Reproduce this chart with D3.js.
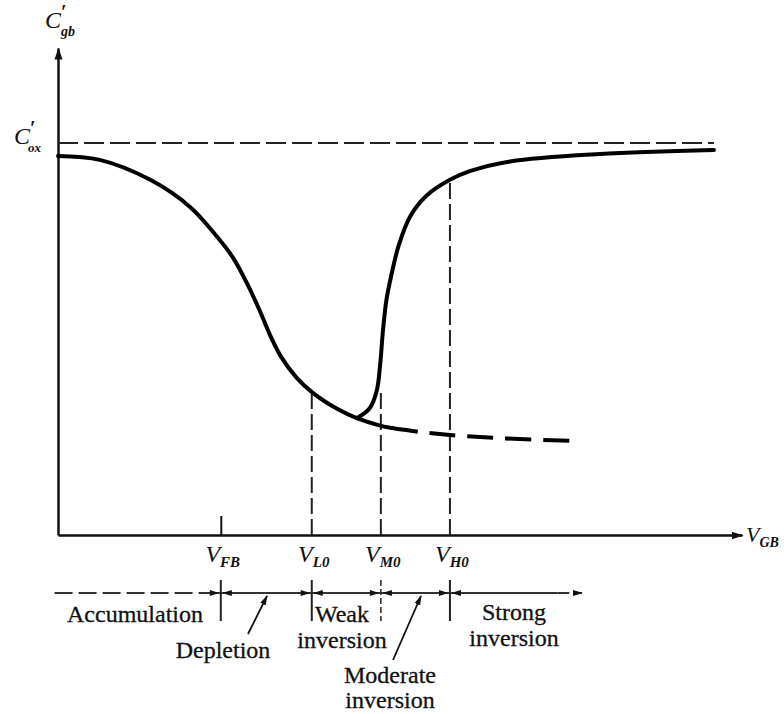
<!DOCTYPE html>
<html>
<head>
<meta charset="utf-8">
<script src="https://cdn.jsdelivr.net/npm/d3@7"></script>
<style>
body{margin:0;background:#fff;}
text{font-family:"Liberation Serif","Times New Roman",serif;fill:#111;}
</style>
</head>
<body>
<div id="chart"></div>
<script>
// C'gb versus VGB, normalised: C'ox = 1, VGB on a 0..100 scale
var descending = [[0,0.967],[6.1,0.957],[13.5,0.906],[19.3,0.837],[23.2,0.762],[25.6,0.707],
	[27.6,0.643],[29.5,0.572],[31.0,0.510],[32.6,0.455],[34.9,0.401],[37.3,0.362],
	[40.8,0.322],[43.7,0.298],[47.1,0.279],[48.8,0.273]];
var rising = [[43.7,0.298],[45.6,0.324],[46.6,0.368],[47.1,0.435],[47.5,0.520],[48.0,0.598],
	[48.7,0.660],[49.8,0.738],[51.5,0.813],[53.9,0.866],[57.3,0.906],[60.2,0.928],
	[66.1,0.953],[79.2,0.972],[95.9,0.982]];
var depletionTail = [[48.8,0.273],[52.9,0.263],[57.3,0.255],[64.6,0.247],[75.1,0.240]];
var coxLine = [[0,1],[95.9,1]];

var markerNames = ["FB","L0","M0","H0"];
var markerValues = [23.8, 37.1, 47.2, 57.3];
var markerTops = [null, 0.360, 0.370, 0.906];

var regionNames = [["Accumulation"],["Depletion"],["Weak","inversion"],["Moderate","inversion"],["Strong","inversion"]];

var width = 784, height = 714;
var svg = d3.select("#chart").append("svg").attr("width", width).attr("height", height);

var x = d3.scaleLinear().domain([0,100]).range([58,742]);
var y = d3.scaleLinear().domain([0,1]).range([535,143]);

var defs = svg.append("defs");
defs.append("marker").attr("id","arrow").attr("viewBox","0 -5 12 10")
	.attr("refX",11).attr("refY",0).attr("markerWidth",12).attr("markerHeight",10)
	.attr("markerUnits","userSpaceOnUse").attr("orient","auto")
	.append("path").attr("d","M0,-4L12,0L0,4Z").attr("fill","#111");
defs.append("marker").attr("id","smallarrow").attr("viewBox","0 -4 10 8")
	.attr("refX",9).attr("refY",0).attr("markerWidth",10).attr("markerHeight",8)
	.attr("markerUnits","userSpaceOnUse").attr("orient","auto")
	.append("path").attr("d","M0,-3L10,0L0,3Z").attr("fill","#111");

// axes
var xAxis = svg.append("g").attr("transform","translate(0,"+y(0)+")")
	.call(d3.axisBottom(x).tickValues([markerValues[0]]).tickSizeInner(-19).tickSizeOuter(0).tickFormat(""));
var yAxis = svg.append("g").attr("transform","translate("+x(0)+",0)")
	.call(d3.axisLeft(d3.scaleLinear().domain([0,1.242]).range([535,48])).tickValues([]).tickSizeOuter(0));
[xAxis,yAxis].forEach(function(a){
	a.select(".domain").attr("stroke","#111").attr("stroke-width",2.5).attr("marker-end","url(#arrow)");
	a.selectAll(".tick line").attr("stroke","#111").attr("stroke-width",2);
});

var line = d3.line().x(function(d){return x(d[0]);}).y(function(d){return y(d[1]);});
var smooth = d3.line().x(function(d){return x(d[0]);}).y(function(d){return y(d[1]);}).curve(d3.curveCatmullRom.alpha(0.5));

// C'ox asymptote
svg.append("path").attr("d", line(coxLine)).attr("fill","none")
	.attr("stroke","#222").attr("stroke-width",2.2).attr("stroke-dasharray","20,6");

// vertical dashed guides
svg.selectAll(".guide").data(markerValues.slice(1)).enter().append("line")
	.attr("class","guide")
	.attr("x1",function(d){return x(d);}).attr("x2",function(d){return x(d);})
	.attr("y1",y(0)).attr("y2",function(d,i){return y(markerTops[i+1]);})
	.attr("stroke","#222").attr("stroke-width",2).attr("stroke-dasharray","16,5");

// curves
svg.append("path").attr("d", smooth(descending)).attr("fill","none")
	.attr("stroke","#000").attr("stroke-width",4).attr("stroke-linecap","round");
svg.append("path").attr("d", smooth(rising)).attr("fill","none")
	.attr("stroke","#000").attr("stroke-width",4).attr("stroke-linecap","round");
svg.append("path").attr("d", smooth(depletionTail)).attr("fill","none")
	.attr("stroke","#000").attr("stroke-width",4).attr("stroke-dasharray","26,12");

// tick labels  V_sub
function vLabel(g, px, py, main, sub, size, subSize){
	var t = g.append("text").attr("x",px).attr("y",py).attr("font-style","italic")
		.attr("font-size",size).attr("text-anchor","middle");
	t.append("tspan").text(main);
	t.append("tspan").attr("dy",5).attr("font-size",subSize).attr("font-weight","bold").text(sub);
	return t;
}
markerNames.forEach(function(n,i){
	vLabel(svg, x(markerValues[i])+2, 562, "V", n, 24, 15);
});
vLabel(svg, 746, 542, "V", "GB", 22, 14).attr("text-anchor","start");

// y axis labels: C, prime and subscript as separate pieces
function cLabel(px, py, sub, subSize, subDx){
	svg.append("text").attr("x",px).attr("y",py).attr("font-style","italic").attr("font-size",24).text("C");
	svg.append("text").attr("x",px+16).attr("y",py-9).attr("font-size",20).attr("font-weight","bold").text("′");
	svg.append("text").attr("x",px+subDx).attr("y",py+8).attr("font-style","italic")
		.attr("font-size",subSize).attr("font-weight","bold").text(sub);
}
cLabel(45, 28, "gb", 14, 16);
cLabel(14, 144, "ox", 13, 14);

// operating regions band
var bandY = 593;
var band = svg.append("g");
band.append("line").attr("x1",x(-0.5)).attr("x2",x(22.5)).attr("y1",bandY).attr("y2",bandY)
	.attr("stroke","#333").attr("stroke-width",2).attr("stroke-dasharray","18,6");
band.append("line").attr("x1",x(22.5)).attr("x2",x(73)).attr("y1",bandY).attr("y2",bandY)
	.attr("stroke","#333").attr("stroke-width",2);
band.append("line").attr("x1",x(73)).attr("x2",x(76.6)).attr("y1",bandY).attr("y2",bandY)
	.attr("stroke","#333").attr("stroke-width",2).attr("stroke-dasharray","12,5")
	.attr("marker-end","url(#smallarrow)");
markerValues.forEach(function(v,i){
	var bx = x(v);
	band.append("line").attr("x1",bx).attr("x2",bx).attr("y1",bandY-13).attr("y2",bandY+28)
		.attr("stroke","#222").attr("stroke-width",i==2?1.5:2).attr("stroke-dasharray",i==2?"6,3":null);
	[-1,1].forEach(function(s){
		band.append("path").attr("d","M"+(bx+s*11)+","+(bandY-3)+"L"+(bx+s*1.5)+","+bandY+"L"+(bx+s*11)+","+(bandY+3)+"Z")
			.attr("fill","#111");
	});
});

var labelPos = [[135,622],[223,658],[342,622],[390,683],[514,620]];
regionNames.forEach(function(lines,i){
	var t = svg.append("text").attr("text-anchor","middle").attr("font-size",24)
		.attr("x",labelPos[i][0]).attr("y",labelPos[i][1]).attr("stroke","#111").attr("stroke-width",0.3);
	lines.forEach(function(l,j){
		t.append("tspan").attr("x",labelPos[i][0]).attr("dy",j==0?0:(i==3?25:26)).text(l);
	});
});
// pointer arrows
svg.append("line").attr("x1",248).attr("y1",634).attr("x2",267).attr("y2",596)
	.attr("stroke","#111").attr("stroke-width",1.8).attr("marker-end","url(#smallarrow)");
svg.append("line").attr("x1",393).attr("y1",660).attr("x2",421).attr("y2",596)
	.attr("stroke","#111").attr("stroke-width",1.8).attr("marker-end","url(#smallarrow)");
</script>
</body>
</html>
